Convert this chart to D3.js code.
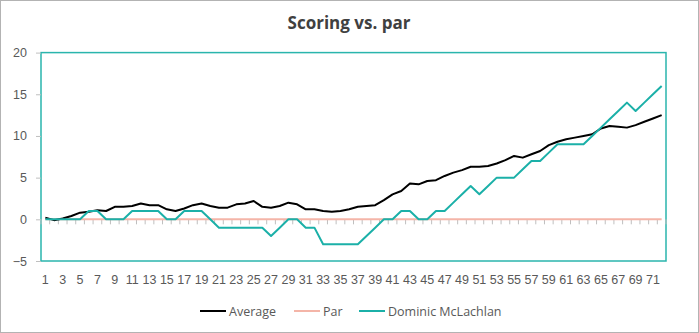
<!DOCTYPE html>
<html><head><meta charset="utf-8">
<script src="https://cdn.jsdelivr.net/npm/d3@7"></script>
<style>
html,body{margin:0;padding:0;background:#fff;}
svg{display:block;font-family:"Open Sans","Noto Sans",sans-serif;}
</style></head>
<body><svg id="c" width="699" height="333"></svg>
<script>
const holes = d3.range(1, 73);
const average = [0.2,-0.1,0.1,0.4,0.8,0.9,1.1,1.0,1.5,1.5,1.6,1.9,1.7,1.7,1.2,1.0,1.3,1.7,1.9,1.6,1.4,1.4,1.8,1.9,2.2,1.5,1.4,1.6,2.0,1.8,1.2,1.2,1.0,0.9,1.0,1.2,1.5,1.6,1.7,2.3,3.0,3.4,4.3,4.2,4.6,4.7,5.2,5.6,5.9,6.3,6.3,6.4,6.7,7.1,7.6,7.4,7.8,8.2,8.9,9.3,9.6,9.8,10.0,10.2,10.9,11.2,11.1,11.0,11.3,11.7,12.1,12.5];
const par = holes.map(() => 0);
const dominic = [0,0,0,0,0,1,1,0,0,0,1,1,1,1,0,0,1,1,1,0,-1,-1,-1,-1,-1,-1,-2,-1,0,0,-1,-1,-3,-3,-3,-3,-3,-2,-1,0,0,1,1,0,0,1,1,2,3,4,3,4,5,5,5,6,7,7,8,9,9,9,9,10,11,12,13,14,13,14,15,16];
const yTicks = [-5,0,5,10,15,20];
const xLabels = holes.filter(h => h % 2 === 1);
const seriesNames = ["Average","Par","Dominic McLachlan"];
const colors = ["#000000","#f4b5a8","#1bb0a8"];

const svg = d3.select("#c");
svg.append("rect").attr("x",0.5).attr("y",0.5).attr("width",698).attr("height",332)
  .attr("fill","#fff").attr("stroke","#b3b3b3");

const L=41, R=666, T=52.6, B=261;
const x = d3.scaleBand().domain(holes).range([L,R]);
const y = d3.scaleLinear().domain([-5,20]).range([B,T]);

svg.append("text").attr("x",349).attr("y",29).attr("text-anchor","middle")
  .attr("font-size",17).attr("font-weight","bold").attr("fill","#404040").text("Scoring vs. par");

// plot border
svg.append("rect").attr("x",L).attr("y",T).attr("width",R-L).attr("height",B-T)
  .attr("fill","none").attr("stroke","#2ab5ad").attr("stroke-width",1.5);

// y axis
const ya = svg.append("g").attr("transform",`translate(${L},0)`)
  .call(d3.axisLeft(y).tickValues(yTicks).tickSize(5).tickPadding(9));
ya.select(".domain").remove();
ya.selectAll("line").attr("stroke","#bfbfbf");
ya.selectAll("text").attr("font-size",12.5).attr("fill","#595959").attr("font-family","inherit");

// x labels at bottom
const xa = svg.append("g").attr("transform",`translate(0,${B})`)
  .call(d3.axisBottom(x).tickValues(xLabels).tickSize(0).tickPadding(14));
xa.select(".domain").remove();
xa.selectAll("text").attr("font-size",12.5).attr("fill","#595959").attr("font-family","inherit");

// minor tick marks at category boundaries along y=0
const bounds = holes.map(h => x(h)).concat([R]);
svg.append("g").selectAll("line").data(bounds).join("line")
  .attr("x1",d=>d).attr("x2",d=>d).attr("y1",y(0)).attr("y2",y(0)+5)
  .attr("stroke","#bfbfbf");

const line = d3.line().x((d,i)=>x(holes[i])+x.bandwidth()/2).y(d=>y(d));
const data = [average, par, dominic];
[1,0,2].forEach(k=>{
  svg.append("path").datum(data[k]).attr("d",line).attr("fill","none")
    .attr("stroke",colors[k]).attr("stroke-width",2).attr("stroke-linejoin","round");
});

// legend
const lg = [{x:200},{x:294},{x:359}];
seriesNames.forEach((n,i)=>{
  svg.append("line").attr("x1",lg[i].x).attr("x2",lg[i].x+26).attr("y1",311).attr("y2",311)
    .attr("stroke",colors[i]).attr("stroke-width",2);
  svg.append("text").attr("x",lg[i].x+29).attr("y",315.5).attr("font-size",12.5)
    .attr("fill","#595959").text(n);
});
</script></body></html>
